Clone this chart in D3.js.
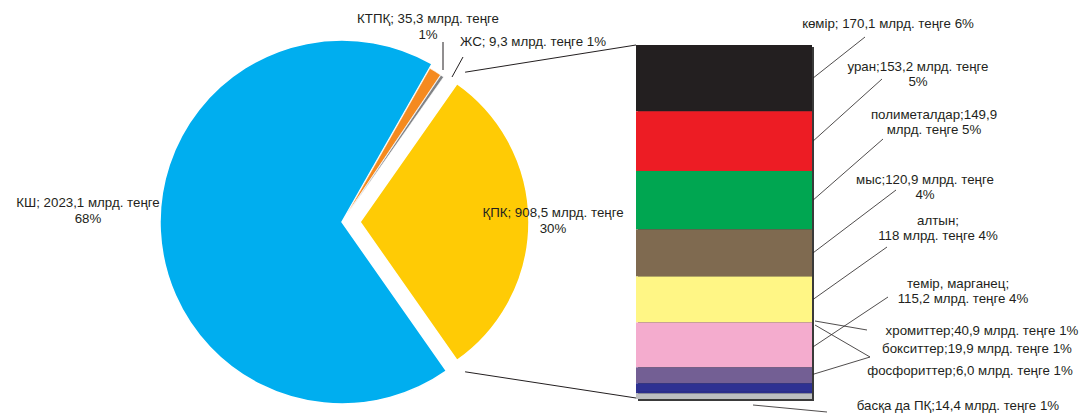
<!DOCTYPE html>
<html><head><meta charset="utf-8">
<script src="https://cdn.jsdelivr.net/npm/d3@7/dist/d3.min.js"></script>
<style>body{margin:0;background:#fff}svg{display:block}text{font-family:"Liberation Sans",Arial,sans-serif;font-size:13.3px;fill:#231f20}</style>
</head><body><svg id="c" width="1084" height="417"></svg>
<script>
// Pie data (order: "other" slice first, then clockwise)
const pieNames = ["ҚПК", "КШ", "КТПҚ", "ЖС"];
const pieValues = [908.5, 2023.1, 35.3, 9.3];
const pieLabels = [["ҚПК; 908,5 млрд. теңге", "30%"], ["КШ; 2023,1 млрд. теңге", "68%"], ["КТПҚ; 35,3 млрд. теңге", "1%"], ["ЖС; 9,3 млрд. теңге 1%"]];
const pieColors = ["#ffcb05", "#00aeef", "#f58a1f", "#808285"];

// Bar (breakdown of ҚПК)
const barNames = ["көмір", "уран", "полиметалдар", "мыс", "алтын", "темір, марганец", "хромиттер", "бокситтер", "фосфориттер", "басқа да ПҚ"];
const barValues = [170.1, 153.2, 149.9, 120.9, 118, 115.2, 40.9, 19.9, 6.0, 14.4];
const barLabels = [
  ["көмір; 170,1 млрд. теңге 6%"],
  ["уран;153,2 млрд. теңге", "5%"],
  ["полиметалдар;149,9", "млрд. теңге  5%"],
  ["мыс;120,9 млрд. теңге", "4%"],
  ["алтын;", "118 млрд. теңге 4%"],
  ["темір, марганец;", "115,2 млрд. теңге 4%"],
  ["хромиттер;40,9 млрд. теңге 1%"],
  ["бокситтер;19,9 млрд. теңге 1%"],
  ["фосфориттер;6,0 млрд. теңге 1%"],
  ["басқа да ПҚ;14,4 млрд. теңге 1%"]
];
const barColors = ["#231f20", "#ed1c24", "#00a651", "#7f6a50", "#fff685", "#f4acce", "#735f94", "#2e3192", "#2b2e8c", "#bcbec0"];

const svg = d3.select("#c");

// ---------- PIE ----------
const total = d3.sum(pieValues);
const otherSpan = pieValues[0] / total * 2 * Math.PI;
const start = Math.PI / 2 - otherSpan / 2;
const pie = d3.pie().sort(null).startAngle(start).endAngle(start + 2 * Math.PI);
const arcs = pie(pieValues);
const center = [342, 222];
const sliceGeom = [ // radius, explode offset
  {r: 169, off: 18},
  {r: 182, off: 0},
  {r: 168, off: 9},
  {r: 168, off: 9}
];
arcs.forEach((a, i) => {
  const mid = (a.startAngle + a.endAngle) / 2;
  const g = sliceGeom[i];
  const dx = g.off * Math.sin(mid), dy = -g.off * Math.cos(mid);
  a.cx = center[0] + dx; a.cy = center[1] + dy;
  svg.append("path")
    .attr("transform", `translate(${a.cx},${a.cy})`)
    .attr("d", d3.arc().innerRadius(0).outerRadius(g.r)(a))
    .attr("fill", pieColors[i])
    .attr("stroke", "#fff").attr("stroke-width", i >= 2 ? 0.6 : 1.5);
});

// connector lines from ҚПК slice to the bar
const y = d3.scaleLinear().domain([0, d3.sum(barValues)]).range([45, 399]);
const barX0 = 636, barX1 = 812;
const yA = arcs[0];
const rc = sliceGeom[0].r + 14;
[[yA.startAngle, y(0)], [yA.endAngle, y(d3.sum(barValues)) - 1]].forEach(([ang, by]) => {
  svg.append("line")
    .attr("x1", yA.cx + rc * Math.sin(ang)).attr("y1", yA.cy - rc * Math.cos(ang))
    .attr("x2", barX0).attr("y2", by)
    .attr("stroke", "#231f20").attr("stroke-width", 1);
});

// pie labels
const pieLabelPos = [[553, 217, "middle"], [88, 207, "middle"], [428, 23, "middle"], [460, 46, "start"]];
pieLabels.forEach((lines, i) => {
  const [x, yy, anc] = pieLabelPos[i];
  const t = svg.append("text").attr("x", x).attr("y", yy).attr("text-anchor", anc);
  lines.forEach((l, k) => t.append("tspan").attr("x", x).attr("dy", k ? 16 : 0).text(l));
});
// pie leader lines
svg.append("line").attr("x1", 443).attr("y1", 42).attr("x2", 443).attr("y2", 70).attr("stroke", "#231f20");
svg.append("line").attr("x1", 463).attr("y1", 57).attr("x2", 452).attr("y2", 77).attr("stroke", "#231f20");

// ---------- BAR ----------
let cum = 0;
const segs = barValues.map((v, i) => { const s = {i, y0: cum, y1: cum + v}; cum += v; return s; });
// shadow
svg.append("rect").attr("x", barX0 + 2).attr("y", y(0) + 2).attr("width", barX1 - barX0).attr("height", y(cum) - y(0))
  .attr("fill", "#3a3a3a");
svg.selectAll("rect.seg").data(segs).join("rect").attr("class", "seg")
  .attr("x", barX0).attr("width", barX1 - barX0)
  .attr("y", d => y(d.y0)).attr("height", d => y(d.y1) - y(d.y0))
  .attr("fill", d => barColors[d.i]);

const barLabelPos = [
  [888, 28], [918, 71], [934, 119], [925, 184], [938, 225], [958, 288],
  [982, 335], [977, 353], [970, 375], [958, 410]
];
barLabels.forEach((lines, i) => {
  const [x, yy] = barLabelPos[i];
  const t = svg.append("text").attr("x", x).attr("y", yy).attr("text-anchor", "middle");
  lines.forEach((l, k) => t.append("tspan").attr("x", x + (i === 5 && k === 1 ? 5 : 0)).attr("dy", k ? 15 : 0).text(l));
});
const mid = i => y((segs[i].y0 + segs[i].y1) / 2);
const leaders = [
  [865, 37, barX1 + 1, mid(0)],
  [882, 79, barX1 + 1, mid(1)],
  [883, 139, barX1 + 1, mid(2)],
  [896, 190, barX1 + 1, mid(3)],
  [887, 247, barX1 + 1, mid(4)],
  [888, 297, barX1 + 1, mid(5) + 2],
  [867, 330, barX1 + 3, 321],
  [870, 357, barX1 + 3, 325],
  [870, 357, barX1 + 1, mid(6) - 1],
  [753, 405, 827, 412]
];
leaders.forEach(([x1, y1, x2, y2]) => svg.append("line").attr("x1", x1).attr("y1", y1).attr("x2", x2).attr("y2", y2)
  .attr("stroke", "#231f20").attr("stroke-width", 0.8));
</script></body></html>
